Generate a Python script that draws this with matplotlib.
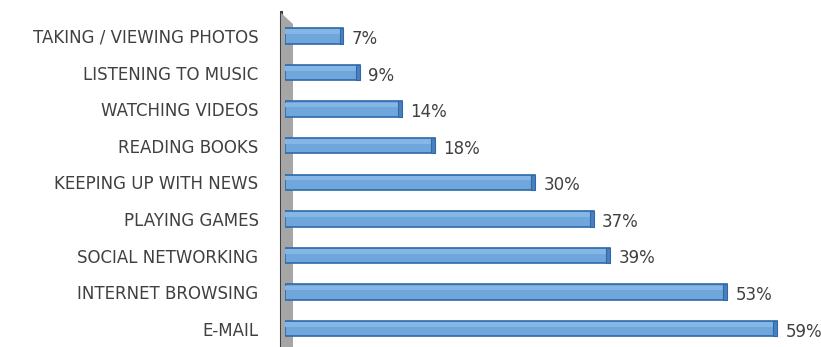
import matplotlib.pyplot as plt
import matplotlib.patches as mpatches

categories = ["TAKING / VIEWING PHOTOS", "LISTENING TO MUSIC", "WATCHING VIDEOS",
              "READING BOOKS", "KEEPING UP WITH NEWS", "PLAYING GAMES",
              "SOCIAL NETWORKING", "INTERNET BROWSING", "E-MAIL"]
values = [7, 9, 14, 18, 30, 37, 39, 53, 59]
value_labels = ["7%", "9%", "14%", "18%", "30%", "37%", "39%", "53%", "59%"]

plt.rcParams['font.family'] = ['DejaVu Sans']

fig = plt.figure(figsize=(8.21, 3.47), dpi=100)
ax = fig.add_axes([285 / 821, 0.0, 517 / 821, 0.949])
ax.patch.set_visible(False)

ys = list(range(len(categories)))
h = 0.42
# main bar body
ax.barh(ys, values, height=h, color="#6fa6dc", edgecolor="#2f6aa8", linewidth=1.2, zorder=3)
# lighter top face
ax.barh([y - h * 0.28 for y in ys], values, height=h * 0.3, color="#86b6e6",
        edgecolor="none", zorder=4)
# darker right end cap
ax.barh(ys, [0.45] * len(values), left=[v - 0.45 for v in values], height=h,
        color="#4a80c0", edgecolor="#2f6aa8", linewidth=0.8, zorder=5)

for y, v, lab in zip(ys, values, value_labels):
    ax.text(v + 1.0, y + 0.08, lab, va="center", ha="left", fontsize=12, color="#404040")

ax.set_xlim(0, 62)
ax.set_ylim(len(categories) - 0.5, -0.5)
ax.set_yticks(ys)
ax.set_yticklabels(categories, fontsize=12, color="#404040")
ax.tick_params(axis="y", length=0, pad=19)
ax.set_xticks([])
for s in ax.spines.values():
    s.set_visible(False)

# 3D side wall
wall = mpatches.Polygon([(281 / 821, 1 - 13 / 347), (293 / 821, 1 - 24 / 347),
                         (293 / 821, 0.0), (281 / 821, 0.0)],
                        closed=True, transform=fig.transFigure,
                        facecolor="#a6a6a6", edgecolor="none", zorder=-1)
fig.patches.append(wall)
fig.add_artist(plt.Line2D([281 / 821, 281 / 821], [1 - 12 / 347, 0.0],
                          transform=fig.transFigure, color="#404040", linewidth=2.2,
                          zorder=-1))

fig.savefig("out.png", dpi=100)
